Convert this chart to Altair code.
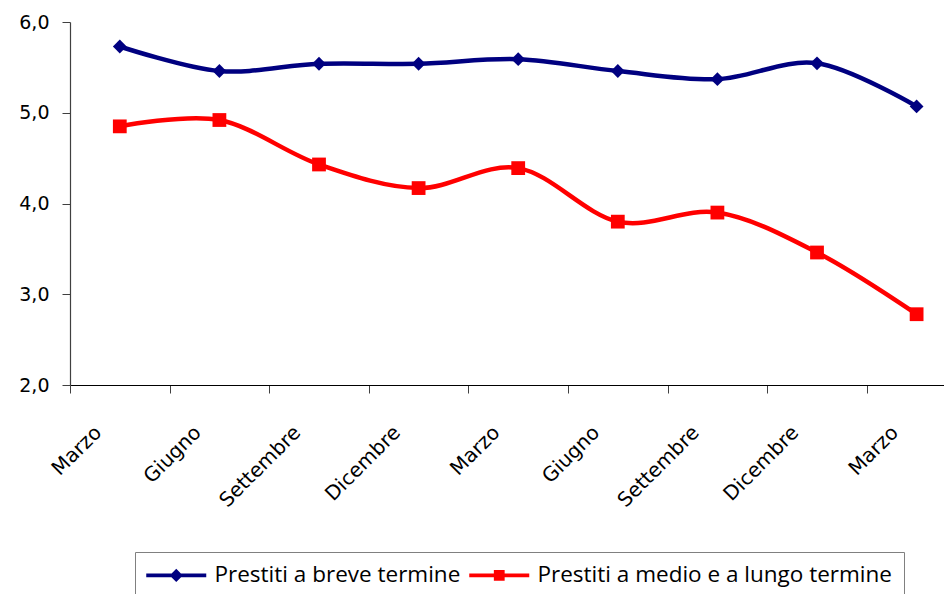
import altair as alt
import pandas as pd

# ---- data ----
categories = ["Marzo", "Giugno", "Settembre", "Dicembre", "Marzo",
              "Giugno", "Settembre", "Dicembre", "Marzo"]
series_names = ["Prestiti a breve termine", "Prestiti a medio e a lungo termine"]
breve = [5.73, 5.46, 5.54, 5.54, 5.59, 5.46, 5.37, 5.545, 5.07]
medio = [4.85, 4.92, 4.43, 4.17, 4.39, 3.80, 3.90, 3.46, 2.78]
y_ticks = [2, 3, 4, 5, 6]
marker_shapes = ["diamond", "square"]

rows = []
for i, v in enumerate(breve):
    rows.append({"idx": i, "serie": series_names[0], "forma": marker_shapes[0], "valore": v})
for i, v in enumerate(medio):
    rows.append({"idx": i, "serie": series_names[1], "forma": marker_shapes[1], "valore": v})
df = pd.DataFrame(rows)

colors = ["#000080", "#FF0000"]

cat_js = "[" + ",".join("'" + c + "'" for c in categories) + "]"
x_values = [k / 2 for k in range(-1, 17)]

x_enc = alt.X(
    "idx:Q",
    scale=alt.Scale(domain=[-0.5, 8.275], nice=False, zero=False),
    axis=alt.Axis(
        title=None,
        values=x_values,
        grid=False,
        labelExpr=f"datum.value % 1 === 0 ? {cat_js}[datum.value] : ''",
        labelAngle=-45,
        labelAlign="right",
        labelBaseline="top",
        labelOffset=-29,
        labelPadding=29,
        labelFlush=False,
        labelOverlap=False,
        labelBound=False,
        labelFont="DejaVu Sans",
        labelFontSize=20,
        labelColor="black",
        tickSize=8,
        tickColor="#404040",
        tickOpacity={"condition": {"test": "datum.value % 1 !== 0", "value": 1}, "value": 0},
        domainColor="black",
        domainWidth=1.2,
    ),
)

y_enc = alt.Y(
    "valore:Q",
    scale=alt.Scale(domain=[2, 6], nice=False, zero=False),
    axis=alt.Axis(
        title=None,
        values=y_ticks,
        grid=False,
        labelExpr="replace(format(datum.value, '.1f'), '.', ',')",
        labelFont="DejaVu Sans",
        labelFontSize=19,
        labelColor="black",
        labelPadding=13,
        tickSize=8,
        tickColor="#404040",
        domainColor="#404040",
        domainWidth=1.2,
    ),
)

color_scale = alt.Scale(domain=series_names, range=colors)

line_path_breve = "M-5,-0.33H5V0.33H-5Z M0,-1.1L1.1,0L0,1.1L-1.1,0Z"
line_path_medio = "M-5,-0.33H5V0.33H-5Z M-0.9,-0.9H0.9V0.9H-0.9Z"
shape_expr = (f"datum.value === '{series_names[0]}' ? '{line_path_breve}' : '{line_path_medio}'")

legend = alt.Legend(
    title=None,
    orient="none",
    legendX=65,
    legendY=530,
    direction="horizontal",
    strokeColor="#808080",
    fillColor="white",
    padding=12,
    symbolSize=144,
    symbolStrokeWidth=0,
    symbolType={"expr": shape_expr},
    symbolOpacity=1,
    symbolOffset=18,
    labelOffset=27,
    columnPadding=8,
    labelFont="Open Sans",
    labelFontSize=22.5,
    labelColor="black",
    labelLimit=0,
)

lines = alt.Chart(df).mark_line(interpolate="cardinal", strokeWidth=4.5).encode(
    x=x_enc,
    y=y_enc,
    color=alt.Color("serie:N", scale=color_scale, legend=legend),
)

points = alt.Chart(df).mark_point(filled=True, size=190, opacity=1).encode(
    x=x_enc,
    y=y_enc,
    color=alt.Color("serie:N", scale=color_scale, legend=legend),
    shape=alt.Shape("forma:N", scale=None),
)

chart = (
    alt.layer(lines, points)
    .properties(
        width=874,
        height=363,
        autosize=alt.AutoSizeParams(type="none"),
        padding={"left": 62, "top": 14, "right": 0, "bottom": 209},
        background="white",
    )
    .configure_view(stroke=None)
)

chart.save("out.html", embed_options={"renderer": "svg", "actions": False})
